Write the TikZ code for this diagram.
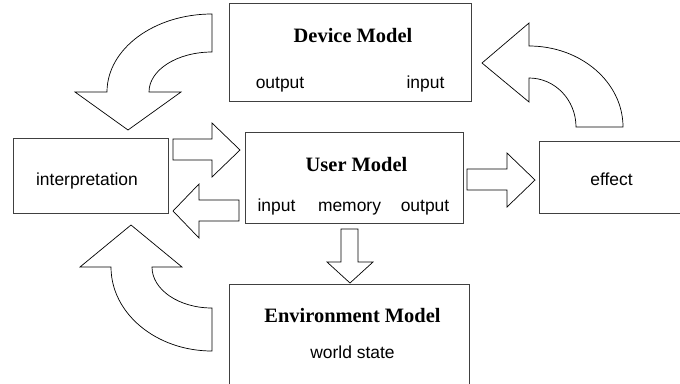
\documentclass[tikz,border=0pt]{standalone}
\usepackage{fontspec}
\setmainfont{Liberation Serif}
\setsansfont{Liberation Sans}
\begin{document}
\begin{tikzpicture}[x=1bp,y=-1bp,
  box/.style={draw=black!75, line width=1bp, inner sep=0pt, anchor=north west},
  blockarrow/.style={draw=black, line width=0.7bp, fill=white, line join=miter},
  heading/.style={font=\fontsize{20.5}{24}\selectfont\bfseries, anchor=base, inner sep=0pt},
  txt/.style={font=\fontsize{17.5}{20}\selectfont\sffamily, anchor=base, inner sep=0pt}]
\clip (0,0) rectangle (680,383);

% model boxes
\node[box, minimum width=242bp, minimum height=98bp] (device) at (229,3) {};
\node[box, minimum width=218bp, minimum height=91bp] (user) at (245,132) {};
\node[box, minimum width=155bp, minimum height=75bp] (interp) at (13,138) {};
\node[box, minimum width=160bp, minimum height=72bp] (effect) at (539,141) {};
\node[box, minimum width=240bp, minimum height=110bp] (env) at (229,284) {};

% texts
\node[heading] (deviceTitle) at (353,42) {Device Model};
\node[txt] (deviceOut) at (280,88) {output};
\node[txt] (deviceIn) at (425.5,88) {input};
\node[heading] (userTitle) at (356.5,171) {User Model};
\node[txt] (userIn) at (276.5,211) {input};
\node[txt] (userMem) at (349.5,211) {memory};
\node[txt] (userOut) at (425,211) {output};
\node[txt] (interpText) at (87,185) {interpretation};
\node[txt] (effectText) at (611.5,185) {effect};
\node[heading] (envTitle) at (352.5,322) {Environment Model};
\node[txt] (envState) at (352.5,358) {world state};

% straight block arrows
\draw[blockarrow] (173,139) -- (212,139) -- (212,123) -- (240,150) -- (212,177) -- (212,160) -- (173,160) -- cycle;
\draw[blockarrow] (239,200) -- (199,200) -- (199,184) -- (173,211) -- (199,238) -- (199,221) -- (239,221) -- cycle;
\draw[blockarrow] (467,169) -- (507,169) -- (507,153) -- (535,180) -- (507,207) -- (507,190) -- (467,190) -- cycle;
\draw[blockarrow] (341,229) -- (341,262) -- (327,262) -- (350,283) -- (373,262) -- (358,262) -- (358,229) -- cycle;

% curved block arrows
\draw[blockarrow] (212,14) arc[start angle=90, end angle=180, x radius=105bp, y radius=78bp]
  -- (75,92) -- (128,130) -- (181,92) -- (149,92)
  arc[start angle=180, end angle=90, x radius=63bp, y radius=40bp] -- cycle;
\draw[blockarrow] (529,46) arc[start angle=90, end angle=0, x radius=94bp, y radius=81bp]
  -- (576,127) arc[start angle=0, end angle=90, x radius=47bp, y radius=49bp]
  -- (529,102) -- (482,63) -- (529,23) -- cycle;
\draw[blockarrow] (111,267) arc[start angle=180, end angle=270, x radius=101bp, y radius=84bp]
  -- (212,308) arc[start angle=270, end angle=180, x radius=60bp, y radius=41bp]
  -- (182,267) -- (131,225) -- (80,267) -- cycle;
\end{tikzpicture}
\end{document}
